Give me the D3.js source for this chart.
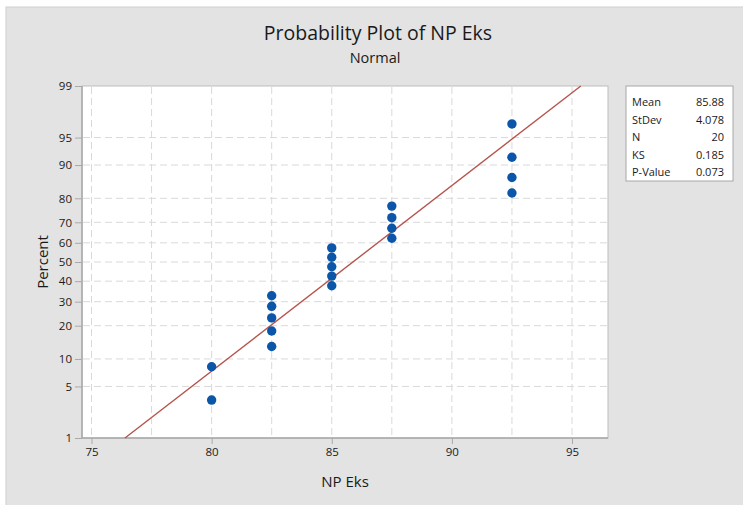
<!DOCTYPE html>
<html>
<head>
<meta charset="utf-8">
<script src="https://cdn.jsdelivr.net/npm/d3@7"></script>
<style>
  html, body { margin: 0; background: #fff; overflow: hidden; }
  svg { display: block; }
  svg text { font-family: "Open Sans", "Noto Sans", sans-serif; fill: #1a1a1a; }
</style>
</head>
<body>
<svg id="chart"></svg>
<script>
const npEks = [80, 80, 82.5, 82.5, 82.5, 82.5, 82.5, 85, 85, 85, 85, 85,
               87.5, 87.5, 87.5, 87.5, 92.5, 92.5, 92.5, 92.5];
const percents = [3.4, 8.3, 13.2, 18.1, 23.0, 27.9, 32.8, 37.7, 42.6, 47.5,
                  52.5, 57.4, 62.3, 67.2, 72.1, 77.0, 81.9, 86.8, 91.7, 96.6];
const xTicks = [75, 80, 85, 90, 95];
const xGrid = [75, 77.5, 80, 82.5, 85, 87.5, 90, 92.5, 95];
const yTicks = [1, 5, 10, 20, 30, 40, 50, 60, 70, 80, 90, 95, 99];
const statLabels = ["Mean", "StDev", "N", "KS", "P-Value"];
const statValues = ["85.88", "4.078", "20", "0.185", "0.073"];
const fitMean = 85.88, fitSd = 4.078;

// inverse standard normal cdf (Acklam)
function probit(p) {
  const a = [-39.6968302866538, 220.946098424521, -275.928510446969, 138.357751867269, -30.6647980661472, 2.50662827745924];
  const b = [-54.4760987982241, 161.585836858041, -155.698979859887, 66.8013118877197, -13.2806815528857];
  const c = [-0.00778489400243029, -0.322396458041136, -2.40075827716184, -2.54973253934373, 4.37466414146497, 2.93816398269878];
  const d = [0.00778469570904146, 0.32246712907004, 2.445134137143, 3.75440866190742];
  const pl = 0.02425;
  let q, r;
  if (p < pl) {
    q = Math.sqrt(-2 * Math.log(p));
    return (((((c[0]*q+c[1])*q+c[2])*q+c[3])*q+c[4])*q+c[5]) / ((((d[0]*q+d[1])*q+d[2])*q+d[3])*q+1);
  }
  if (p > 1 - pl) {
    q = Math.sqrt(-2 * Math.log(1 - p));
    return -(((((c[0]*q+c[1])*q+c[2])*q+c[3])*q+c[4])*q+c[5]) / ((((d[0]*q+d[1])*q+d[2])*q+d[3])*q+1);
  }
  q = p - 0.5; r = q * q;
  return (((((a[0]*r+a[1])*r+a[2])*r+a[3])*r+a[4])*r+a[5])*q / (((((b[0]*r+b[1])*r+b[2])*r+b[3])*r+b[4])*r+1);
}

const W = 743, H = 505;
const svg = d3.select("#chart").attr("width", W).attr("height", H);

svg.append("rect").attr("x", 6).attr("y", 7).attr("width", W + 20).attr("height", H + 20)
  .attr("fill", "#e3e3e3").attr("stroke", "#d0d0d0");

const plot = {left: 82, top: 86, right: 608, bottom: 438};

const x = d3.scaleLinear()
  .domain([75, 95])
  .range([91.5, 572]);
const zScale = d3.scaleLinear()
  .domain([probit(0.01), probit(0.99)])
  .range([plot.bottom, plot.top]);
const y = p => zScale(probit(p / 100));

svg.append("rect")
  .attr("x", plot.left).attr("y", plot.top)
  .attr("width", plot.right - plot.left).attr("height", plot.bottom - plot.top)
  .attr("fill", "#fff").attr("stroke", "#bdbdbd");

// grid
svg.append("g").selectAll("line").data(xGrid).join("line")
  .attr("x1", d => x(d)).attr("x2", d => x(d))
  .attr("y1", plot.top + 1).attr("y2", plot.bottom - 1)
  .attr("stroke", "#d9d9d9").attr("stroke-dasharray", "7,4");
svg.append("g").selectAll("line").data(yTicks.slice(1, -1)).join("line")
  .attr("x1", plot.left + 1).attr("x2", plot.right - 1)
  .attr("y1", d => y(d)).attr("y2", d => y(d))
  .attr("stroke", "#d9d9d9").attr("stroke-dasharray", "7,4");

// axes
const xAxis = svg.append("g")
  .attr("transform", "translate(0," + plot.bottom + ")")
  .call(d3.axisBottom(x).tickValues(xTicks).tickSize(6).tickPadding(4));
xAxis.select(".domain").attr("d", "M" + plot.left + ",0H" + plot.right).attr("stroke", "#a8a8a8").attr("stroke-width", 1.5);
xAxis.selectAll(".tick line").attr("stroke", "#a8a8a8");
xAxis.selectAll(".tick text").attr("font-size", 11.5).attr("fill", "#2a2a2a");

const yAxis = svg.append("g")
  .attr("transform", "translate(" + plot.left + ",0)")
  .call(d3.axisLeft(zScale).tickValues(yTicks.map(t => probit(t / 100)))
    .tickFormat((d, i) => yTicks[i]).tickSize(7).tickPadding(3));
yAxis.select(".domain").attr("d", "M0," + plot.top + "V" + plot.bottom).attr("stroke", "#a8a8a8").attr("stroke-width", 1.5);
yAxis.selectAll(".tick line").attr("stroke", "#a8a8a8");
yAxis.selectAll(".tick text").attr("font-size", 11.5).attr("fill", "#2a2a2a");

// fitted line
const pEnds = [1, 99];
svg.append("line")
  .attr("x1", x(fitMean + fitSd * probit(pEnds[0] / 100)))
  .attr("y1", y(pEnds[0]))
  .attr("x2", x(fitMean + fitSd * probit(pEnds[1] / 100)))
  .attr("y2", y(pEnds[1]))
  .attr("stroke", "#b5544c").attr("stroke-width", 1.4);

// points
svg.append("g").selectAll("circle").data(npEks).join("circle")
  .attr("cx", d => x(d))
  .attr("cy", (d, i) => y(percents[i]))
  .attr("r", 4.7)
  .attr("fill", "#0b56a8");

// titles
svg.append("text").attr("x", 378).attr("y", 40).attr("text-anchor", "middle")
  .attr("font-size", 19.5).attr("font-weight", 500).text("Probability Plot of NP Eks");
svg.append("text").attr("x", 375).attr("y", 63).attr("text-anchor", "middle")
  .attr("font-size", 14.5).text("Normal");
svg.append("text").attr("x", 345).attr("y", 487).attr("text-anchor", "middle")
  .attr("font-size", 15).text("NP Eks");
svg.append("text").attr("transform", "translate(48,262) rotate(-90)")
  .attr("text-anchor", "middle").attr("font-size", 15).text("Percent");

// stats box
const box = svg.append("g");
box.append("rect").attr("x", 626).attr("y", 86).attr("width", 107).attr("height", 95)
  .attr("fill", "#fff").attr("stroke", "#a8a8a8");
box.selectAll(".lab").data(statLabels).join("text")
  .attr("x", 632).attr("y", (d, i) => 106 + i * 17.5)
  .attr("font-size", 11).text(d => d);
box.selectAll(".val").data(statValues).join("text")
  .attr("x", 724).attr("y", (d, i) => 106 + i * 17.5)
  .attr("text-anchor", "end").attr("font-size", 11).text(d => d);
</script>
</body>
</html>
